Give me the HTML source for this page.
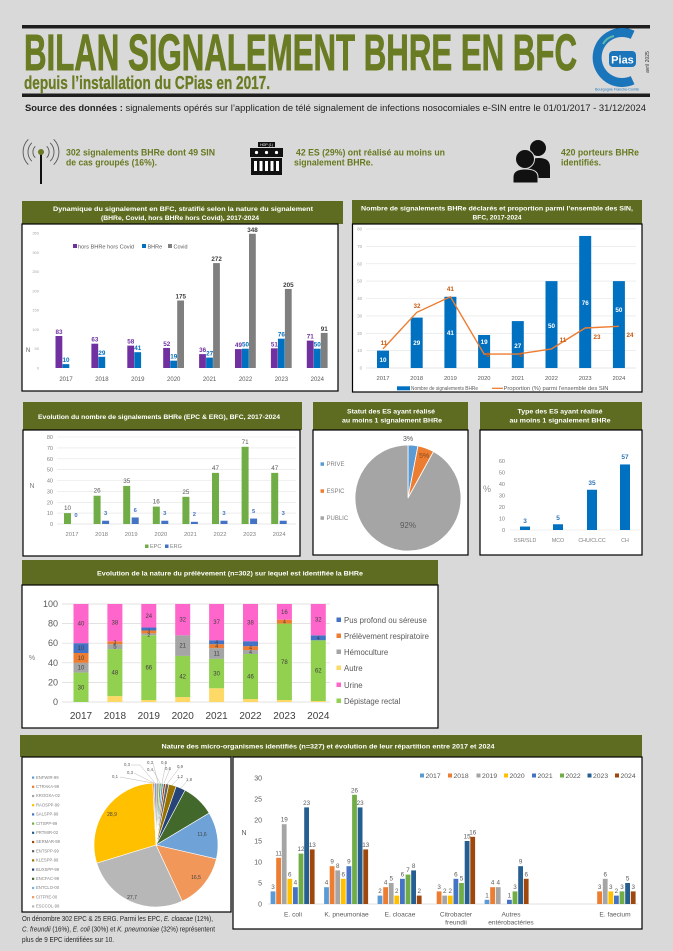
<!DOCTYPE html>
<html><head><meta charset="utf-8"><style>
html,body{margin:0;padding:0;background:#d9d9d9;}
svg{display:block;font-family:"Liberation Sans",sans-serif;}
</style></head><body>
<svg width="673" height="951" viewBox="0 0 673 951" xmlns="http://www.w3.org/2000/svg">
<rect width="673" height="951" fill="#d9d9d9"/>

<!-- ===== HEADER ===== -->
<rect x="22" y="25" width="628" height="3.5" fill="#1e1e1e"/>
<text x="24" y="70" font-family="'Liberation Sans Narrow','Liberation Sans',sans-serif" font-weight="bold" font-size="51" fill="#6a7c23" stroke="#6a7c23" stroke-width="0.9" textLength="553" lengthAdjust="spacingAndGlyphs">BILAN SIGNALEMENT BHRE EN BFC</text>
<text x="24" y="89" font-family="'Liberation Sans Narrow','Liberation Sans',sans-serif" font-weight="bold" font-size="18" fill="#6a7c23" stroke="#6a7c23" stroke-width="0.3" textLength="246" lengthAdjust="spacingAndGlyphs">depuis l’installation du CPias en 2017.</text>
<rect x="22" y="93.5" width="628" height="3.5" fill="#1e1e1e"/>

<!-- logo -->
<path d="M632.6 34.8 A25 25 0 1 0 632.6 80.2" fill="none" stroke="#1b75bb" stroke-width="9"/>
<path d="M603 44 A16 16 0 0 1 614 36" fill="none" stroke="#5fb8a8" stroke-width="2"/>
<rect x="609" y="51" width="27" height="16" rx="4" fill="#1b75bb"/>
<text x="622.5" y="63.5" text-anchor="middle" font-size="11" font-weight="bold" fill="#fff">Pias</text>
<text x="617" y="90.5" text-anchor="middle" font-size="3.4" fill="#1b75bb" textLength="44" lengthAdjust="spacingAndGlyphs">Bourgogne Franche-Comté</text>
<text transform="translate(649,62) rotate(-90)" text-anchor="middle" font-size="5" fill="#333">avril 2025</text>

<!-- source -->
<text x="25" y="111" font-size="9" fill="#222" textLength="621" lengthAdjust="spacingAndGlyphs"><tspan font-weight="bold">Source des données :</tspan> signalements opérés sur l’application de télé signalement de infections nosocomiales e-SIN entre le 01/01/2017 - 31/12/2024</text>

<!-- icons row -->
<g fill="none" stroke="#555" stroke-width="0.9">
<path d="M35.3 146.3 A8 8 0 0 0 35.3 157.7"/><path d="M31.8 142.8 A13 13 0 0 0 31.8 161.2"/><path d="M28.3 139.3 A18 18 0 0 0 28.3 164.7"/>
<path d="M46.7 146.3 A8 8 0 0 1 46.7 157.7"/><path d="M50.2 142.8 A13 13 0 0 1 50.2 161.2"/><path d="M53.7 139.3 A18 18 0 0 1 53.7 164.7"/>
</g>
<line x1="41" y1="154" x2="41" y2="184" stroke="#111" stroke-width="2"/>
<circle cx="41" cy="152" r="3" fill="#6a7c23"/>
<text x="66" y="155.5" font-size="9.5" font-weight="bold" fill="#66791f" textLength="149" lengthAdjust="spacingAndGlyphs">302 signalements BHRe dont 49 SIN</text>
<text x="66" y="165.5" font-size="9.5" font-weight="bold" fill="#66791f" textLength="91" lengthAdjust="spacingAndGlyphs">de cas groupés (16%).</text>

<rect x="258" y="142" width="17" height="5" fill="#111"/>
<text x="266.5" y="146" text-anchor="middle" font-size="3.5" fill="#fff">HOP (1)</text>
<rect x="250" y="148" width="33" height="9" fill="#111"/>
<circle cx="256.5" cy="152.5" r="1.6" fill="#fff"/><circle cx="266.5" cy="152.5" r="1.6" fill="#fff"/><circle cx="276.5" cy="152.5" r="1.6" fill="#fff"/>
<rect x="251" y="158" width="31" height="17" fill="#111"/>
<rect x="254" y="161" width="3" height="10" fill="#fff"/><rect x="259.5" y="161" width="3" height="10" fill="#fff"/><rect x="265" y="161" width="3" height="10" fill="#fff"/><rect x="270.5" y="161" width="3" height="10" fill="#fff"/><rect x="276" y="161" width="3" height="10" fill="#fff"/>
<text x="296" y="155.5" font-size="9.5" font-weight="bold" fill="#66791f" textLength="149" lengthAdjust="spacingAndGlyphs">42 ES (29%) ont réalisé au moins un</text>
<text x="294" y="165.5" font-size="9.5" font-weight="bold" fill="#66791f" textLength="79" lengthAdjust="spacingAndGlyphs">signalement BHRe.</text>

<circle cx="538" cy="148" r="8" fill="#111"/>
<path d="M527 178 L527 167 Q528 158 539 158 Q550 158 550 167 L550 178 Z" fill="#111"/>
<circle cx="525" cy="159" r="9.5" fill="#111" stroke="#d9d9d9" stroke-width="1"/>
<path d="M513 183 L513 177 Q513 169 525 169 Q538 169 538 177 L538 183 Z" fill="#111" stroke="#d9d9d9" stroke-width="1"/>
<text x="561" y="155.5" font-size="9.5" font-weight="bold" fill="#66791f" textLength="78" lengthAdjust="spacingAndGlyphs">420 porteurs BHRe</text>
<text x="561" y="165.5" font-size="9.5" font-weight="bold" fill="#66791f" textLength="40" lengthAdjust="spacingAndGlyphs">identifiés.</text>

<!-- ===== CHART 1 ===== -->
<rect x="22" y="201" width="321" height="23" fill="#5d6c20"/>
<text x="183" y="211" text-anchor="middle" font-size="6.8" font-weight="bold" fill="#fff" textLength="260" lengthAdjust="spacingAndGlyphs">Dynamique du signalement en BFC, stratifié selon la nature du signalement</text>
<text x="180" y="220" text-anchor="middle" font-size="6.8" font-weight="bold" fill="#fff" textLength="158" lengthAdjust="spacingAndGlyphs">(BHRe, Covid, hors BHRe hors Covid),  2017-2024</text>
<rect x="22" y="224" width="316" height="167" fill="#fff" stroke="#000" stroke-width="1.2"/>
<g font-size="4" fill="#a6a6a6" text-anchor="end">
<text x="39" y="369.5">0</text><text x="39" y="350.2">50</text><text x="39" y="330.9">100</text><text x="39" y="311.6">150</text><text x="39" y="292.4">200</text><text x="39" y="273.1">250</text><text x="39" y="253.8">300</text><text x="39" y="234.5">350</text>
</g>
<text x="28" y="352" font-size="6" fill="#595959" text-anchor="middle">N</text>
<rect x="73" y="244" width="4" height="4" fill="#7030a0"/><text x="78" y="248.3" font-size="5.5" fill="#595959" textLength="56" lengthAdjust="spacingAndGlyphs">hors BHRe hors Covid</text>
<rect x="142" y="244" width="4" height="4" fill="#0070c0"/><text x="147.5" y="248.3" font-size="5.5" fill="#595959">BHRe</text>
<rect x="168" y="244" width="4" height="4" fill="#7f7f7f"/><text x="173.5" y="248.3" font-size="5.5" fill="#595959">Covid</text>
<g transform="translate(0,368) scale(1,-0.3857)">
<rect x="55.5" y="0" width="6.8" height="83" fill="#7030a0"/><rect x="62.5" y="0" width="6.8" height="10" fill="#0070c0"/>
<rect x="91.4" y="0" width="6.8" height="63" fill="#7030a0"/><rect x="98.4" y="0" width="6.8" height="29" fill="#0070c0"/>
<rect x="127.3" y="0" width="6.8" height="58" fill="#7030a0"/><rect x="134.3" y="0" width="6.8" height="41" fill="#0070c0"/>
<rect x="163.2" y="0" width="6.8" height="52" fill="#7030a0"/><rect x="170.2" y="0" width="6.8" height="19" fill="#0070c0"/><rect x="177.2" y="0" width="6.8" height="175" fill="#7f7f7f"/>
<rect x="199.1" y="0" width="6.8" height="36" fill="#7030a0"/><rect x="206.1" y="0" width="6.8" height="27" fill="#0070c0"/><rect x="213.1" y="0" width="6.8" height="272" fill="#7f7f7f"/>
<rect x="235" y="0" width="6.8" height="49" fill="#7030a0"/><rect x="242" y="0" width="6.8" height="50" fill="#0070c0"/><rect x="249" y="0" width="6.8" height="348" fill="#7f7f7f"/>
<rect x="270.9" y="0" width="6.8" height="51" fill="#7030a0"/><rect x="277.9" y="0" width="6.8" height="76" fill="#0070c0"/><rect x="284.9" y="0" width="6.8" height="205" fill="#7f7f7f"/>
<rect x="306.8" y="0" width="6.8" height="71" fill="#7030a0"/><rect x="313.8" y="0" width="6.8" height="50" fill="#0070c0"/><rect x="320.8" y="0" width="6.8" height="91" fill="#7f7f7f"/>
</g>
<g font-size="6.3" font-weight="bold" text-anchor="middle">
<g fill="#7030a0"><text x="59" y="334">83</text><text x="94.9" y="341.7">63</text><text x="130.8" y="343.6">58</text><text x="166.7" y="345.9">52</text><text x="202.6" y="352.1">36</text><text x="238.5" y="347.1">49</text><text x="274.4" y="346.3">51</text><text x="310.3" y="338.6">71</text></g>
<g fill="#0070c0"><text x="66" y="362.1">10</text><text x="101.9" y="354.8">29</text><text x="137.8" y="350.2">41</text><text x="173.7" y="358.7">19</text><text x="209.6" y="355.6">27</text><text x="245.5" y="346.7">50</text><text x="281.4" y="336.7">76</text><text x="317.3" y="346.7">50</text></g>
<g fill="#404040"><text x="180.7" y="298.5">175</text><text x="216.6" y="261.1">272</text><text x="252.5" y="231.8">348</text><text x="288.4" y="286.9">205</text><text x="324.3" y="330.9">91</text></g>
</g>
<g font-size="6" fill="#595959" text-anchor="middle">
<text x="66" y="381">2017</text><text x="101.9" y="381">2018</text><text x="137.8" y="381">2019</text><text x="173.7" y="381">2020</text><text x="209.6" y="381">2021</text><text x="245.5" y="381">2022</text><text x="281.4" y="381">2023</text><text x="317.3" y="381">2024</text>
</g>

<!-- ===== CHART 2 ===== -->
<rect x="352" y="200" width="290" height="24" fill="#5d6c20"/>
<text x="497" y="210.5" text-anchor="middle" font-size="6.8" font-weight="bold" fill="#fff" textLength="272" lengthAdjust="spacingAndGlyphs">Nombre de signalements BHRe déclarés et proportion parmi l’ensemble des SIN,</text>
<text x="497" y="219.5" text-anchor="middle" font-size="6.8" font-weight="bold" fill="#fff" textLength="49" lengthAdjust="spacingAndGlyphs">BFC, 2017-2024</text>
<rect x="352.5" y="224" width="289.5" height="168" fill="#fff" stroke="#000" stroke-width="1.2"/>
<g stroke="#e3e3e3" stroke-width="0.6">
<line x1="366" y1="229" x2="636" y2="229"/><line x1="366" y1="246.4" x2="636" y2="246.4"/><line x1="366" y1="263.8" x2="636" y2="263.8"/><line x1="366" y1="281.1" x2="636" y2="281.1"/><line x1="366" y1="298.5" x2="636" y2="298.5"/><line x1="366" y1="315.9" x2="636" y2="315.9"/><line x1="366" y1="333.3" x2="636" y2="333.3"/><line x1="366" y1="350.6" x2="636" y2="350.6"/><line x1="366" y1="368" x2="636" y2="368" stroke="#d0d0d0"/>
</g>
<g font-size="4.3" fill="#a0a0a0" text-anchor="end">
<text x="362" y="369.5">0</text><text x="362" y="352.1">10</text><text x="362" y="334.8">20</text><text x="362" y="317.4">30</text><text x="362" y="300">40</text><text x="362" y="282.6">50</text><text x="362" y="265.3">60</text><text x="362" y="247.9">70</text><text x="362" y="230.5">80</text>
</g>
<g transform="translate(0,368) scale(1,-1.7375)" fill="#0070c0">
<rect x="377" y="0" width="12" height="10"/><rect x="410.7" y="0" width="12" height="29"/><rect x="444.4" y="0" width="12" height="41"/><rect x="478.1" y="0" width="12" height="19"/><rect x="511.8" y="0" width="12" height="27"/><rect x="545.5" y="0" width="12" height="50"/><rect x="579.2" y="0" width="12" height="76"/><rect x="612.9" y="0" width="12" height="50"/>
</g>
<g font-size="6.3" font-weight="bold" fill="#fff" text-anchor="middle">
<text x="383" y="362">10</text><text x="416.7" y="345">29</text><text x="450.4" y="335">41</text><text x="484.1" y="344">19</text><text x="517.8" y="348">27</text><text x="551.5" y="328">50</text><text x="585.2" y="305">76</text><text x="618.9" y="312">50</text>
</g>
<polyline points="383,348.9 416.7,312.4 450.4,296.8 484.1,354.1 517.8,354.1 551.5,348.9 585.2,328 618.9,326.3" fill="none" stroke="#ed7d31" stroke-width="1.4"/>
<g font-size="6.3" font-weight="bold" fill="#c55a11" text-anchor="middle">
<text x="384" y="345">11</text><text x="417" y="308">32</text><text x="450.4" y="291">41</text><text x="488" y="357">8</text><text x="521" y="357">8</text><text x="563" y="342">11</text><text x="597" y="339">23</text><text x="630" y="337">24</text>
</g>
<g font-size="5.8" fill="#595959" text-anchor="middle">
<text x="383" y="380">2017</text><text x="416.7" y="380">2018</text><text x="450.4" y="380">2019</text><text x="484.1" y="380">2020</text><text x="517.8" y="380">2021</text><text x="551.5" y="380">2022</text><text x="585.2" y="380">2023</text><text x="618.9" y="380">2024</text>
</g>
<rect x="397" y="386.3" width="13" height="4" fill="#0070c0"/>
<text x="411" y="390.2" font-size="5.3" fill="#595959" textLength="67" lengthAdjust="spacingAndGlyphs">Nombre de signalements BHRe</text>
<line x1="492" y1="388.3" x2="503" y2="388.3" stroke="#ed7d31" stroke-width="1.3"/>
<text x="503.5" y="390.2" font-size="5.3" fill="#595959" textLength="105" lengthAdjust="spacingAndGlyphs">Proportion (%) parmi l’ensemble des SIN</text>

<!-- ===== CHART 3 ===== -->
<rect x="23" y="402" width="279" height="28" fill="#5d6c20"/>
<text x="159" y="419" text-anchor="middle" font-size="6.8" font-weight="bold" fill="#fff" textLength="242" lengthAdjust="spacingAndGlyphs">Evolution du nombre de signalements BHRe (EPC &amp; ERG), BFC, 2017-2024</text>
<rect x="23" y="430" width="277" height="126" fill="#fff" stroke="#000" stroke-width="1.2"/>
<g stroke="#e3e3e3" stroke-width="0.6">
<line x1="57" y1="437" x2="296" y2="437"/><line x1="57" y1="447.9" x2="296" y2="447.9"/><line x1="57" y1="458.8" x2="296" y2="458.8"/><line x1="57" y1="469.6" x2="296" y2="469.6"/><line x1="57" y1="480.5" x2="296" y2="480.5"/><line x1="57" y1="491.4" x2="296" y2="491.4"/><line x1="57" y1="502.3" x2="296" y2="502.3"/><line x1="57" y1="513.1" x2="296" y2="513.1"/><line x1="57" y1="524" x2="296" y2="524" stroke="#d0d0d0"/>
</g>
<g font-size="5.5" fill="#808080" text-anchor="end">
<text x="53" y="526">0</text><text x="53" y="515.1">10</text><text x="53" y="504.3">20</text><text x="53" y="493.4">30</text><text x="53" y="482.5">40</text><text x="53" y="471.6">50</text><text x="53" y="460.8">60</text><text x="53" y="449.9">70</text><text x="53" y="439">80</text>
</g>
<text x="32" y="488" font-size="7" fill="#808080" text-anchor="middle">N</text>
<g transform="translate(0,524) scale(1,-1.0875)">
<g fill="#70ad47"><rect x="64" y="0" width="7" height="10"/><rect x="93.6" y="0" width="7" height="26"/><rect x="123.2" y="0" width="7" height="35"/><rect x="152.8" y="0" width="7" height="16"/><rect x="182.4" y="0" width="7" height="25"/><rect x="212" y="0" width="7" height="47"/><rect x="241.6" y="0" width="7" height="71"/><rect x="271.2" y="0" width="7" height="47"/></g>
<g fill="#4472c4"><rect x="102.1" y="0" width="7" height="3"/><rect x="131.7" y="0" width="7" height="6"/><rect x="161.3" y="0" width="7" height="3"/><rect x="190.9" y="0" width="7" height="2"/><rect x="220.5" y="0" width="7" height="3"/><rect x="250.1" y="0" width="7" height="5"/><rect x="279.7" y="0" width="7" height="3"/></g>
</g>
<g font-size="6.3" fill="#595959" text-anchor="middle">
<text x="67.5" y="510">10</text><text x="97.1" y="492.7">26</text><text x="126.7" y="482.9">35</text><text x="156.3" y="503.6">16</text><text x="185.9" y="493.8">25</text><text x="215.5" y="469.9">47</text><text x="245.1" y="443.8">71</text><text x="274.7" y="469.9">47</text>
</g>
<g font-size="5.8" font-weight="bold" fill="#4472c4" text-anchor="middle">
<text x="76" y="517">0</text><text x="105.6" y="515">3</text><text x="135.2" y="512">6</text><text x="164.8" y="515">3</text><text x="194.4" y="516">2</text><text x="224" y="515">3</text><text x="253.6" y="513">5</text><text x="283.2" y="515">3</text>
</g>
<g font-size="5.8" fill="#808080" text-anchor="middle">
<text x="72" y="536">2017</text><text x="101.6" y="536">2018</text><text x="131.2" y="536">2019</text><text x="160.8" y="536">2020</text><text x="190.4" y="536">2021</text><text x="220" y="536">2022</text><text x="249.6" y="536">2023</text><text x="279.2" y="536">2024</text>
</g>
<rect x="145" y="544.5" width="3.5" height="3.5" fill="#70ad47"/><text x="150" y="548" font-size="5.5" fill="#808080">EPC</text>
<rect x="165" y="544.5" width="3.5" height="3.5" fill="#4472c4"/><text x="170" y="548" font-size="5.5" fill="#808080">ERG</text>

<!-- ===== CHART 4 (pie statut) ===== -->
<rect x="313" y="402" width="155" height="28" fill="#5d6c20"/>
<text x="391" y="413.5" text-anchor="middle" font-size="6.8" font-weight="bold" fill="#fff" textLength="88" lengthAdjust="spacingAndGlyphs">Statut des ES ayant réalisé</text>
<text x="392" y="422.5" text-anchor="middle" font-size="6.8" font-weight="bold" fill="#fff" textLength="100" lengthAdjust="spacingAndGlyphs">au moins 1 signalement BHRe</text>
<rect x="313" y="430" width="155" height="125" fill="#fff" stroke="#000" stroke-width="1.2"/>
<g stroke="#fff" stroke-width="0.8">
<path d="M408 498 L408 445 A53 53 0 0 1 417.93 445.94 Z" fill="#5b9bd5"/>
<path d="M408 498 L417.93 445.94 A53 53 0 0 1 433.53 451.56 Z" fill="#ed7d31"/>
<path d="M408 498 L433.53 451.56 A53 53 0 1 1 408 445 Z" fill="#a5a5a5"/>
</g>
<text x="408" y="441" text-anchor="middle" font-size="7" fill="#595959">3%</text>
<text x="424" y="458" text-anchor="middle" font-size="7" fill="#8a4a1a">5%</text>
<text x="408" y="528" text-anchor="middle" font-size="8" fill="#595959">92%</text>
<rect x="320.5" y="462.3" width="3.5" height="3.5" fill="#5b9bd5"/><text x="326.5" y="466.2" font-size="6" fill="#808080">PRIVE</text>
<rect x="320.5" y="489.3" width="3.5" height="3.5" fill="#ed7d31"/><text x="326.5" y="493.2" font-size="6" fill="#808080">ESPIC</text>
<rect x="320.5" y="516.3" width="3.5" height="3.5" fill="#a5a5a5"/><text x="326.5" y="520.2" font-size="6" fill="#808080">PUBLIC</text>

<!-- ===== CHART 5 (type ES) ===== -->
<rect x="480" y="402" width="162" height="28" fill="#5d6c20"/>
<text x="560" y="413.5" text-anchor="middle" font-size="6.8" font-weight="bold" fill="#fff" textLength="85" lengthAdjust="spacingAndGlyphs">Type des ES ayant réalisé</text>
<text x="560" y="422.5" text-anchor="middle" font-size="6.8" font-weight="bold" fill="#fff" textLength="101" lengthAdjust="spacingAndGlyphs">au moins 1 signalement BHRe</text>
<rect x="480" y="430" width="162" height="125" fill="#fff" stroke="#000" stroke-width="1.2"/>
<g font-size="5.5" fill="#808080" text-anchor="end">
<text x="505" y="532">0</text><text x="505" y="520.5">10</text><text x="505" y="509">20</text><text x="505" y="497.5">30</text><text x="505" y="486">40</text><text x="505" y="474.5">50</text><text x="505" y="463">60</text>
</g>
<text x="487" y="492" font-size="9" fill="#909090" text-anchor="middle">%</text>
<line x1="510" y1="530" x2="640" y2="530" stroke="#e0e0e0" stroke-width="0.6"/>
<g fill="#0070c0">
<rect x="520" y="526.55" width="10" height="3.45"/><rect x="553" y="524.25" width="10" height="5.75"/><rect x="587" y="489.75" width="10" height="40.25"/><rect x="620" y="464.45" width="10" height="65.55"/>
</g>
<g font-size="6.5" font-weight="bold" fill="#2e75b6" text-anchor="middle">
<text x="525" y="523">3</text><text x="558" y="520">5</text><text x="592" y="485">35</text><text x="625" y="459">57</text>
</g>
<g font-size="5.3" fill="#808080" text-anchor="middle">
<text x="525" y="542">SSR/SLD</text><text x="558" y="542">MCO</text><text x="592" y="542">CHU/CLCC</text><text x="625" y="542">CH</text>
</g>

<!-- ===== STACKED CHART ===== -->
<rect x="22" y="560" width="416" height="25" fill="#5d6c20"/>
<text x="230" y="575.5" text-anchor="middle" font-size="6.6" font-weight="bold" fill="#fff" textLength="266" lengthAdjust="spacingAndGlyphs">Evolution de la nature du prélèvement (n=302) sur lequel est identifiée la BHRe</text>
<rect x="22" y="585" width="416" height="143" fill="#fff" stroke="#000" stroke-width="1.2"/>
<g stroke="#d9d9d9" stroke-width="0.7">
<line x1="62" y1="604" x2="330" y2="604"/><line x1="62" y1="623.6" x2="330" y2="623.6"/><line x1="62" y1="643.2" x2="330" y2="643.2"/><line x1="62" y1="662.8" x2="330" y2="662.8"/><line x1="62" y1="682.4" x2="330" y2="682.4"/><line x1="62" y1="702" x2="330" y2="702"/>
</g>
<g font-size="9" fill="#595959" text-anchor="end">
<text x="58" y="705">0</text><text x="58" y="685.4">20</text><text x="58" y="665.8">40</text><text x="58" y="646.2">60</text><text x="58" y="626.6">80</text><text x="58" y="607">100</text>
</g>
<text x="32" y="660" font-size="7" fill="#808080" text-anchor="middle">%</text>
<g transform="translate(0,702) scale(1,-0.98)">
<!-- 2017 -->
<rect x="73.5" y="0" width="15" height="30" fill="#92d050"/><rect x="73.5" y="30" width="15" height="10" fill="#a5a5a5"/><rect x="73.5" y="40" width="15" height="10" fill="#ed7d31"/><rect x="73.5" y="50" width="15" height="10" fill="#4472c4"/><rect x="73.5" y="60" width="15" height="40" fill="#ff66cc"/>
<!-- 2018 -->
<rect x="107.4" y="0" width="15" height="6" fill="#ffd966"/><rect x="107.4" y="6" width="15" height="48" fill="#92d050"/><rect x="107.4" y="54" width="15" height="5" fill="#a5a5a5"/><rect x="107.4" y="59" width="15" height="3" fill="#ed7d31"/><rect x="107.4" y="62" width="15" height="38" fill="#ff66cc"/>
<!-- 2019 -->
<rect x="141.3" y="0" width="15" height="2" fill="#ffd966"/><rect x="141.3" y="2" width="15" height="66" fill="#92d050"/><rect x="141.3" y="68" width="15" height="2" fill="#a5a5a5"/><rect x="141.3" y="70" width="15" height="3" fill="#ed7d31"/><rect x="141.3" y="73" width="15" height="3" fill="#4472c4"/><rect x="141.3" y="76" width="15" height="24" fill="#ff66cc"/>
<!-- 2020 -->
<rect x="175.2" y="0" width="15" height="5" fill="#ffd966"/><rect x="175.2" y="5" width="15" height="42" fill="#92d050"/><rect x="175.2" y="47" width="15" height="21" fill="#a5a5a5"/><rect x="175.2" y="68" width="15" height="32" fill="#ff66cc"/>
<!-- 2021 -->
<rect x="209.1" y="0" width="15" height="14" fill="#ffd966"/><rect x="209.1" y="14" width="15" height="30" fill="#92d050"/><rect x="209.1" y="44" width="15" height="11" fill="#a5a5a5"/><rect x="209.1" y="55" width="15" height="4" fill="#ed7d31"/><rect x="209.1" y="59" width="15" height="4" fill="#4472c4"/><rect x="209.1" y="63" width="15" height="37" fill="#ff66cc"/>
<!-- 2022 -->
<rect x="243" y="0" width="15" height="3" fill="#ffd966"/><rect x="243" y="3" width="15" height="46" fill="#92d050"/><rect x="243" y="49" width="15" height="4" fill="#a5a5a5"/><rect x="243" y="53" width="15" height="4" fill="#ed7d31"/><rect x="243" y="57" width="15" height="5" fill="#4472c4"/><rect x="243" y="62" width="15" height="38" fill="#ff66cc"/>
<!-- 2023 -->
<rect x="276.9" y="0" width="15" height="2" fill="#ffd966"/><rect x="276.9" y="2" width="15" height="78" fill="#92d050"/><rect x="276.9" y="80" width="15" height="4" fill="#ed7d31"/><rect x="276.9" y="84" width="15" height="16" fill="#ff66cc"/>
<!-- 2024 -->
<rect x="310.8" y="0" width="15" height="1" fill="#ffd966"/><rect x="310.8" y="1" width="15" height="62" fill="#92d050"/><rect x="310.8" y="63" width="15" height="5" fill="#4472c4"/><rect x="310.8" y="68" width="15" height="32" fill="#ff66cc"/>
</g>
<g font-size="6" fill="#404040" text-anchor="middle">
<text x="81" y="689.3">30</text><text x="81" y="669.7">10</text><text x="81" y="659.9">10</text><text x="81" y="650.1">10</text><text x="81" y="625.6">40</text>
<text x="114.9" y="674.6">48</text><text x="114.9" y="648.6">5</text><text x="114.9" y="644.2" font-size="5">3</text><text x="114.9" y="624.6">38</text>
<text x="148.8" y="669.7">66</text><text x="148.8" y="637" font-size="5">2</text><text x="148.8" y="633.5" font-size="5">3</text><text x="148.8" y="617.8">24</text>
<text x="182.7" y="678.5">42</text><text x="182.7" y="647.6">21</text><text x="182.7" y="621.7">32</text>
<text x="216.6" y="675.6">30</text><text x="216.6" y="655.5">11</text><text x="216.6" y="648.1" font-size="5">4</text><text x="216.6" y="644.2" font-size="5">4</text><text x="216.6" y="624.1">37</text>
<text x="250.5" y="678.5">46</text><text x="250.5" y="654" font-size="5">4</text><text x="250.5" y="649.5" font-size="5">4</text><text x="250.5" y="624.6">38</text>
<text x="284.4" y="663.8">78</text><text x="284.4" y="623.6" font-size="5">4</text><text x="284.4" y="613.8">16</text>
<text x="318.3" y="672.6">62</text><text x="318.3" y="639.8" font-size="5">4</text><text x="318.3" y="621.7">32</text>
</g>
<g font-size="10" fill="#404040" text-anchor="middle">
<text x="81" y="719">2017</text><text x="114.9" y="719">2018</text><text x="148.8" y="719">2019</text><text x="182.7" y="719">2020</text><text x="216.6" y="719">2021</text><text x="250.5" y="719">2022</text><text x="284.4" y="719">2023</text><text x="318.3" y="719">2024</text>
</g>
<g font-size="7.8" fill="#595959">
<rect x="336.5" y="617.5" width="4.5" height="4.5" fill="#4472c4"/><text x="344" y="622.8">Pus profond ou séreuse</text>
<rect x="336.5" y="633.5" width="4.5" height="4.5" fill="#ed7d31"/><text x="344" y="638.8">Prélèvement respiratoire</text>
<rect x="336.5" y="649.5" width="4.5" height="4.5" fill="#a5a5a5"/><text x="344" y="654.8">Hémoculture</text>
<rect x="336.5" y="665.5" width="4.5" height="4.5" fill="#ffd966"/><text x="344" y="670.8">Autre</text>
<rect x="336.5" y="682.5" width="4.5" height="4.5" fill="#ff66cc"/><text x="344" y="687.8">Urine</text>
<rect x="336.5" y="698.5" width="4.5" height="4.5" fill="#92d050"/><text x="344" y="703.8">Dépistage rectal</text>
</g>

<!-- ===== BOTTOM SECTION ===== -->
<rect x="20" y="735" width="622" height="22" fill="#5d6c20"/>
<text x="328" y="748.5" text-anchor="middle" font-size="6.6" font-weight="bold" fill="#fff" textLength="333" lengthAdjust="spacingAndGlyphs">Nature des micro-organismes identifiés (n=327) et évolution de leur répartition entre 2017 et 2024</text>

<!-- pie box -->
<rect x="22" y="757" width="209" height="155" fill="#fff" stroke="#000" stroke-width="1.2"/>
<g stroke="#fff" stroke-width="0.6">
<path d="M156 845 L156 783 A62 62 0 0 1 159.24 783.09 Z" fill="#a5a5a5"/>
<path d="M156 845 L159.24 783.09 A62 62 0 0 1 161.40 783.24 Z" fill="#70ad47"/>
<path d="M156 845 L161.40 783.24 A62 62 0 0 1 163.56 783.47 Z" fill="#5b9bd5"/>
<path d="M156 845 L163.56 783.47 A62 62 0 0 1 165.70 783.76 Z" fill="#9e480e"/>
<path d="M156 845 L165.70 783.76 A62 62 0 0 1 168.89 784.36 Z" fill="#636363"/>
<path d="M156 845 L168.89 784.36 A62 62 0 0 1 176.19 786.38 Z" fill="#997300"/>
<path d="M156 845 L176.19 786.38 A62 62 0 0 1 185.11 790.26 Z" fill="#264478"/>
<path d="M156 845 L185.11 790.26 A62 62 0 0 1 209.15 813.07 Z" fill="#43682b"/>
<path d="M156 845 L209.15 813.07 A62 62 0 0 1 216.41 858.95 Z" fill="#6fa3d8"/>
<path d="M156 845 L216.41 858.95 A62 62 0 0 1 182.20 901.19 Z" fill="#f1975a"/>
<path d="M156 845 L182.20 901.19 A62 62 0 0 1 96.71 863.13 Z" fill="#b7b7b7"/>
<path d="M156 845 L96.71 863.13 A62 62 0 0 1 152.76 783.09 Z" fill="#ffc000"/>
<path d="M156 845 L152.76 783.09 A62 62 0 0 1 154.38 783.02 Z" fill="#ed7d31"/>
<path d="M156 845 L154.38 783.02 A62 62 0 0 1 156 783 Z" fill="#4472c4"/>
</g>
<g font-size="5" fill="#404040" text-anchor="middle">
<text x="112" y="816">28,9</text><text x="132" y="899">27,7</text><text x="196" y="879">16,5</text><text x="202" y="836">11,6</text>
</g>
<g stroke="#a6a6a6" stroke-width="0.4" fill="none">
<path d="M120 777 L153 783"/><path d="M131 765 L140 765 L155 783"/><path d="M134 773 L154 783"/><path d="M153 763 L158 783"/><path d="M153 770 L160 783"/><path d="M166 763 L162 783"/><path d="M170 769 L164 783"/><path d="M180 767 L167 784"/><path d="M180 777 L172 785"/><path d="M187 781 L181 788"/>
</g>
<g font-size="4.3" fill="#595959" text-anchor="middle">
<text x="115" y="778">0,1</text><text x="127" y="766">0,3</text><text x="130" y="774">0,3</text><text x="150" y="764">0,3</text><text x="150" y="771">0,4</text><text x="164" y="764">0,6</text><text x="168" y="770">0,6</text><text x="180" y="768">0,9</text><text x="180" y="778">1,2</text><text x="189" y="781">1,8</text>
</g>
<g font-size="4.2" fill="#7f7f7f">
<rect x="32" y="776.5" width="2.2" height="2.2" fill="#5b9bd5"/><text x="36" y="778.8">ENFWIR-99</text>
<rect x="32" y="785.7" width="2.2" height="2.2" fill="#ed7d31"/><text x="36" y="788">CTRAKA-99</text>
<rect x="32" y="794.9" width="2.2" height="2.2" fill="#a5a5a5"/><text x="36" y="797.2">KROOXA-02</text>
<rect x="32" y="804.1" width="2.2" height="2.2" fill="#ffc000"/><text x="36" y="806.4">RAOSPP-99</text>
<rect x="32" y="813.3" width="2.2" height="2.2" fill="#4472c4"/><text x="36" y="815.6">SALSPP-99</text>
<rect x="32" y="822.5" width="2.2" height="2.2" fill="#70ad47"/><text x="36" y="824.8">CITSPP-99</text>
<rect x="32" y="831.7" width="2.2" height="2.2" fill="#255e91"/><text x="36" y="834">PRTMIR-02</text>
<rect x="32" y="840.9" width="2.2" height="2.2" fill="#9e480e"/><text x="36" y="843.2">SERMAR-99</text>
<rect x="32" y="850.1" width="2.2" height="2.2" fill="#636363"/><text x="36" y="852.4">ENTSPP-99</text>
<rect x="32" y="859.3" width="2.2" height="2.2" fill="#997300"/><text x="36" y="861.6">KLESPP-99</text>
<rect x="32" y="868.5" width="2.2" height="2.2" fill="#264478"/><text x="36" y="870.8">BUXSPP-99</text>
<rect x="32" y="877.7" width="2.2" height="2.2" fill="#43682b"/><text x="36" y="880">ENCFAC-99</text>
<rect x="32" y="886.9" width="2.2" height="2.2" fill="#7cafdd"/><text x="36" y="889.2">ENTCLO-00</text>
<rect x="32" y="896.1" width="2.2" height="2.2" fill="#f1975a"/><text x="36" y="898.4">CITFRE-00</text>
<rect x="32" y="905.3" width="2.2" height="2.2" fill="#b7b7b7"/><text x="36" y="907.6">ESCCOL-99</text>
</g>
<g font-size="7.3" fill="#262626">
<text x="22" y="921" textLength="191" lengthAdjust="spacingAndGlyphs">On dénombre 302 EPC &amp; 25 ERG. Parmi les EPC, <tspan font-style="italic">E. cloacae</tspan> (12%),</text>
<text x="22" y="931.5" textLength="193" lengthAdjust="spacingAndGlyphs"><tspan font-style="italic">C. freundii</tspan> (16%), <tspan font-style="italic">E. coli</tspan> (30%) et <tspan font-style="italic">K. pneumoniae</tspan> (32%) représentent</text>
<text x="22" y="942" textLength="92" lengthAdjust="spacingAndGlyphs">plus de 9 EPC identifiées sur 10.</text>
</g>

<!-- bar chart box -->
<rect x="233" y="757" width="409" height="172" fill="#fff" stroke="#000" stroke-width="1.2"/>
<line x1="268" y1="904" x2="638" y2="904" stroke="#d9d9d9" stroke-width="0.8"/>
<g font-size="7" fill="#595959" text-anchor="end">
<text x="262" y="906.5">0</text><text x="262" y="885.5">5</text><text x="262" y="864.5">10</text><text x="262" y="843.5">15</text><text x="262" y="822.5">20</text><text x="262" y="801.5">25</text><text x="262" y="780.5">30</text>
</g>
<text x="244" y="835" font-size="7" fill="#595959" text-anchor="middle">N</text>
<g font-size="6.8" fill="#595959">
<rect x="420" y="773.5" width="4" height="4" fill="#5b9bd5"/><text x="425.5" y="778">2017</text>
<rect x="448" y="773.5" width="4" height="4" fill="#ed7d31"/><text x="453.5" y="778">2018</text>
<rect x="476.5" y="773.5" width="4" height="4" fill="#a5a5a5"/><text x="482" y="778">2019</text>
<rect x="504" y="773.5" width="4" height="4" fill="#ffc000"/><text x="509.5" y="778">2020</text>
<rect x="532" y="773.5" width="4" height="4" fill="#4472c4"/><text x="537.5" y="778">2021</text>
<rect x="560" y="773.5" width="4" height="4" fill="#70ad47"/><text x="565.5" y="778">2022</text>
<rect x="587.5" y="773.5" width="4" height="4" fill="#255e91"/><text x="593" y="778">2023</text>
<rect x="615" y="773.5" width="4" height="4" fill="#9e480e"/><text x="620.5" y="778">2024</text>
</g>
<g transform="translate(0,904) scale(1,-4.2)">
<!-- E. coli -->
<rect x="270.6" y="0" width="4.8" height="3" fill="#5b9bd5"/><rect x="276.2" y="0" width="4.8" height="11" fill="#ed7d31"/><rect x="281.8" y="0" width="4.8" height="19" fill="#a5a5a5"/><rect x="287.4" y="0" width="4.8" height="6" fill="#ffc000"/><rect x="293" y="0" width="4.8" height="4" fill="#4472c4"/><rect x="298.6" y="0" width="4.8" height="12" fill="#70ad47"/><rect x="304.2" y="0" width="4.8" height="23" fill="#255e91"/><rect x="309.8" y="0" width="4.8" height="13" fill="#9e480e"/>
<!-- K. pneumoniae -->
<rect x="324.1" y="0" width="4.8" height="4" fill="#5b9bd5"/><rect x="329.7" y="0" width="4.8" height="9" fill="#ed7d31"/><rect x="335.3" y="0" width="4.8" height="8" fill="#a5a5a5"/><rect x="340.9" y="0" width="4.8" height="6" fill="#ffc000"/><rect x="346.5" y="0" width="4.8" height="9" fill="#4472c4"/><rect x="352.1" y="0" width="4.8" height="26" fill="#70ad47"/><rect x="357.7" y="0" width="4.8" height="23" fill="#255e91"/><rect x="363.3" y="0" width="4.8" height="13" fill="#9e480e"/>
<!-- E. cloacae -->
<rect x="377.6" y="0" width="4.8" height="2" fill="#5b9bd5"/><rect x="383.2" y="0" width="4.8" height="4" fill="#ed7d31"/><rect x="388.8" y="0" width="4.8" height="5" fill="#a5a5a5"/><rect x="394.4" y="0" width="4.8" height="2" fill="#ffc000"/><rect x="400" y="0" width="4.8" height="6" fill="#4472c4"/><rect x="405.6" y="0" width="4.8" height="7" fill="#70ad47"/><rect x="411.2" y="0" width="4.8" height="8" fill="#255e91"/><rect x="416.8" y="0" width="4.8" height="2" fill="#9e480e"/>
<!-- Citrobacter -->
<rect x="436.7" y="0" width="4.8" height="3" fill="#ed7d31"/><rect x="442.3" y="0" width="4.8" height="2" fill="#a5a5a5"/><rect x="447.9" y="0" width="4.8" height="2" fill="#ffc000"/><rect x="453.5" y="0" width="4.8" height="6" fill="#4472c4"/><rect x="459.1" y="0" width="4.8" height="5" fill="#70ad47"/><rect x="464.7" y="0" width="4.8" height="15" fill="#255e91"/><rect x="470.3" y="0" width="4.8" height="16" fill="#9e480e"/>
<!-- Autres -->
<rect x="484.6" y="0" width="4.8" height="1" fill="#5b9bd5"/><rect x="490.2" y="0" width="4.8" height="4" fill="#ed7d31"/><rect x="495.8" y="0" width="4.8" height="4" fill="#a5a5a5"/><rect x="507" y="0" width="4.8" height="1" fill="#4472c4"/><rect x="512.6" y="0" width="4.8" height="3" fill="#70ad47"/><rect x="518.2" y="0" width="4.8" height="9" fill="#255e91"/><rect x="523.8" y="0" width="4.8" height="6" fill="#9e480e"/>
<!-- E. faecium -->
<rect x="597.2" y="0" width="4.8" height="3" fill="#ed7d31"/><rect x="602.8" y="0" width="4.8" height="6" fill="#a5a5a5"/><rect x="608.4" y="0" width="4.8" height="3" fill="#ffc000"/><rect x="614" y="0" width="4.8" height="2" fill="#4472c4"/><rect x="619.6" y="0" width="4.8" height="3" fill="#70ad47"/><rect x="625.2" y="0" width="4.8" height="5" fill="#255e91"/><rect x="630.8" y="0" width="4.8" height="3" fill="#9e480e"/>
</g>
<g font-size="6.3" fill="#595959" text-anchor="middle">
<text x="273" y="888.9">3</text><text x="278.6" y="855.3">11</text><text x="284.2" y="821.7">19</text><text x="289.8" y="876.3">6</text><text x="295.4" y="884.7">4</text><text x="301" y="851.1">12</text><text x="306.6" y="804.9">23</text><text x="312.2" y="846.9">13</text>
<text x="326.5" y="884.7">4</text><text x="332.1" y="863.7">9</text><text x="337.7" y="867.9">8</text><text x="343.3" y="876.3">6</text><text x="348.9" y="863.7">9</text><text x="354.5" y="792.3">26</text><text x="360.1" y="804.9">23</text><text x="365.7" y="846.9">13</text>
<text x="380" y="893.1">2</text><text x="385.6" y="884.7">4</text><text x="391.2" y="880.5">5</text><text x="396.8" y="893.1">2</text><text x="402.4" y="876.3">6</text><text x="408" y="872.1">7</text><text x="413.6" y="867.9">8</text><text x="419.2" y="893.1">2</text>
<text x="439.1" y="888.9">3</text><text x="444.7" y="893.1">2</text><text x="450.3" y="893.1">2</text><text x="455.9" y="876.3">6</text><text x="461.5" y="880.5">5</text><text x="467.1" y="838.5">15</text><text x="472.7" y="834.3">16</text>
<text x="487" y="897.3">1</text><text x="492.6" y="884.7">4</text><text x="498.2" y="884.7">4</text><text x="509.4" y="897.3">1</text><text x="515" y="888.9">3</text><text x="520.6" y="863.7">9</text><text x="526.2" y="876.3">6</text>
<text x="599.6" y="888.9">3</text><text x="605.2" y="876.3">6</text><text x="610.8" y="888.9">3</text><text x="616.4" y="893.1">2</text><text x="622" y="888.9">3</text><text x="627.6" y="880.5">5</text><text x="633.2" y="888.9">3</text>
</g>
<g font-size="6.6" fill="#595959" text-anchor="middle">
<text x="293" y="916.5">E. coli</text>
<text x="346.5" y="916.5">K. pneumoniae</text>
<text x="400" y="916.5">E. cloacae</text>
<text x="456" y="916.5">Citrobacter</text><text x="456" y="924.5">freundii</text>
<text x="511" y="916.5">Autres</text><text x="511" y="924.5">entérobactéries</text>
<text x="615" y="916.5">E. faecium</text>
</g>
</svg>
</body></html>
